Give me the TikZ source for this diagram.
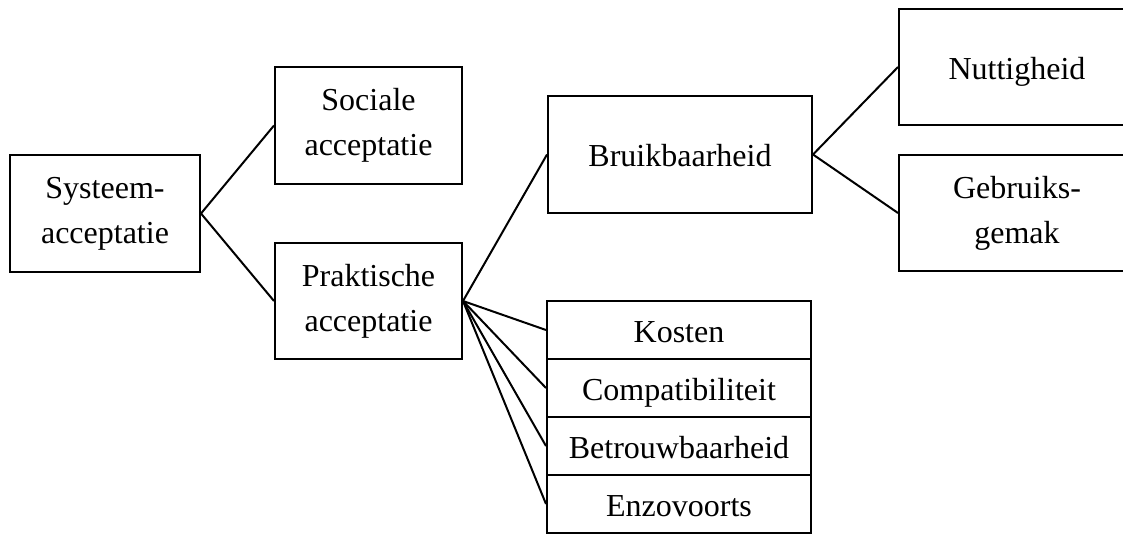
\documentclass[tikz,border=0pt]{standalone}
\usepackage{fontspec}
\setmainfont{Liberation Serif}
\begin{document}
\begin{tikzpicture}[x=1pt,y=-1pt,
  box/.style={draw, line width=2pt, inner sep=0pt, align=center, font=\fontsize{32}{45}\selectfont},
  oneline/.style={box, text height=24pt, text depth=0pt},
  link/.style={line width=2pt}]
\useasboundingbox (0,0) rectangle (1123,533);
\node[box, minimum width=190pt, minimum height=117pt] (sys) at (105,213.5) {Systeem-\\acceptatie};
\node[box, minimum width=187pt, minimum height=117pt] (soc) at (368.5,125.5) {Sociale\\acceptatie};
\node[box, minimum width=187pt, minimum height=116pt] (prak) at (368.5,301) {Praktische\\acceptatie};
\node[oneline, minimum width=264pt, minimum height=117pt] (bruik) at (680,154.5) {Bruikbaarheid};
\node[oneline, minimum width=236pt, minimum height=116pt] (nut) at (1017,67) {Nuttigheid};
\node[box, minimum width=236pt, minimum height=116pt] (geb) at (1017,213) {Gebruiks-\\gemak};
\node[oneline, minimum width=264pt, minimum height=58pt] (kos) at (679,330) {Kosten};
\node[oneline, minimum width=264pt, minimum height=58pt] (com) at (679,388) {Compatibiliteit};
\node[oneline, minimum width=264pt, minimum height=58pt] (bet) at (679,446) {Betrouwbaarheid};
\node[oneline, minimum width=264pt, minimum height=58pt] (enz) at (679,504) {Enzovoorts};
\draw[link] (sys.east) -- (soc.west);
\draw[link] (sys.east) -- (prak.west);
\draw[link] (prak.east) -- (bruik.west);
\draw[link] (bruik.east) -- (nut.west);
\draw[link] (bruik.east) -- (geb.west);
\draw[link] (prak.east) -- (kos.west);
\draw[link] (prak.east) -- (com.west);
\draw[link] (prak.east) -- (bet.west);
\draw[link] (prak.east) -- (enz.west);
\end{tikzpicture}
\end{document}
